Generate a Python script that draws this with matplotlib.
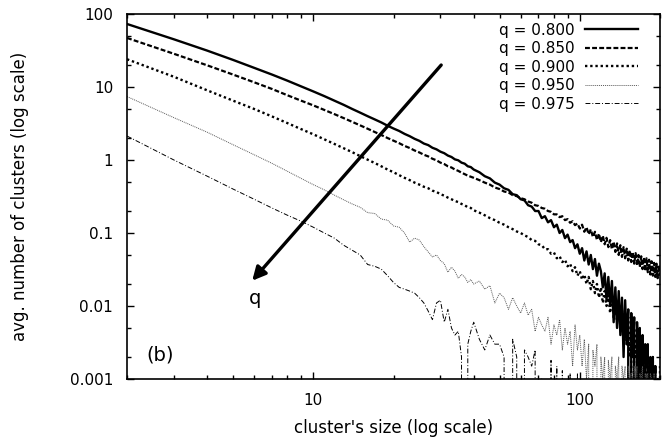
import matplotlib
matplotlib.use("Agg")
import matplotlib.pyplot as plt
from matplotlib.ticker import LogLocator, FixedLocator, FuncFormatter, NullFormatter

plt.rcParams['font.family'] = ['DejaVu Sans']

# cluster sizes (shared grid)
sizes = list(range(2, 41)) + list(range(42, 201, 2))

# q = 0.800
y800 = [73, 45, 31.5, 23.5, 18.3, 14.8, 12.2, 10.2, 8.7, 7.5, 6.5, 5.7, 5.0, 4.45, 3.98, 3.6, 3.27,
        2.95, 2.7, 2.5, 2.28, 2.12, 1.95, 1.83, 1.68, 1.6, 1.47, 1.4, 1.3, 1.24, 1.15, 1.1, 1.02,
        0.99, 0.92, 0.89, 0.82, 0.80, 0.74,
        0.68, 0.6, 0.56, 0.49, 0.46, 0.41, 0.39, 0.34, 0.33, 0.29, 0.28, 0.24, 0.23, 0.2, 0.2,
        0.16, 0.17, 0.14, 0.15, 0.12, 0.13, 0.1, 0.11, 0.085, 0.095, 0.075, 0.08, 0.062, 0.07,
        0.052, 0.062, 0.042, 0.056, 0.037, 0.05, 0.032, 0.044, 0.026, 0.038, 0.03, 0.018, 0.028,
        0.012, 0.025, 0.01, 0.022, 0.006, 0.018, 0.005, 0.016, 0.004, 0.013, 0.002, 0.012, 0.003,
        0.009, 0, 0.008, 0.002, 0.007, 0, 0.006, 0.001, 0.005, 0, 0.004, 0, 0.003, 0.0015, 0.003,
        0, 0.002, 0, 0.002, 0, 0.0015, 0, 0.001, 0, 0]

# q = 0.850
y850 = [47, 28.5, 19.8, 14.8, 11.6, 9.4, 7.7, 6.5, 5.6, 4.85, 4.25, 3.75, 3.33, 2.98, 2.68, 2.42,
        2.2, 2.0, 1.84, 1.7, 1.56, 1.46, 1.35, 1.27, 1.18, 1.12, 1.04, 0.99, 0.92, 0.88, 0.82,
        0.79, 0.74, 0.71, 0.67, 0.64, 0.61, 0.59, 0.57,
        0.53, 0.49, 0.46, 0.42, 0.40, 0.37, 0.36, 0.33, 0.32, 0.30, 0.29, 0.27, 0.26, 0.24, 0.235,
        0.22, 0.215, 0.2, 0.195, 0.18, 0.18, 0.165, 0.17, 0.15, 0.155, 0.138, 0.145, 0.128, 0.135,
        0.115, 0.13, 0.104, 0.12, 0.096, 0.112, 0.088, 0.104, 0.08, 0.098, 0.075, 0.092, 0.07,
        0.086, 0.064, 0.08, 0.06, 0.076, 0.055, 0.072, 0.05, 0.068, 0.047, 0.064, 0.045, 0.061,
        0.042, 0.058, 0.04, 0.055, 0.038, 0.053, 0.036, 0.05, 0.034, 0.048, 0.032, 0.046, 0.03,
        0.045, 0.029, 0.043, 0.027, 0.041, 0.026, 0.039, 0.025, 0.038, 0.024, 0.036, 0.026]

# q = 0.900
y900 = [24, 13.8, 9.0, 6.5, 5.0, 3.95, 3.2, 2.65, 2.25, 1.92, 1.66, 1.45, 1.28, 1.13, 1.01, 0.91,
        0.82, 0.74, 0.68, 0.62, 0.57, 0.53, 0.49, 0.46, 0.43, 0.41, 0.38, 0.365, 0.34, 0.325,
        0.305, 0.29, 0.275, 0.265, 0.25, 0.24, 0.225, 0.22, 0.205,
        0.19, 0.175, 0.16, 0.15, 0.138, 0.13, 0.12, 0.113, 0.105, 0.1, 0.093, 0.088, 0.08, 0.078,
        0.07, 0.068, 0.06, 0.06, 0.052, 0.054, 0.045, 0.048, 0.04, 0.043, 0.035, 0.038, 0.03,
        0.034, 0.026, 0.03, 0.023, 0.027, 0.02, 0.025, 0.017, 0.022, 0.015, 0.02, 0.013, 0.018,
        0.011, 0.016, 0.01, 0.014, 0.008, 0.013, 0.007, 0.011, 0.006, 0.01, 0.005, 0.009, 0.004,
        0.008, 0.003, 0.007, 0.002, 0.006, 0, 0.005, 0.002, 0.004, 0, 0.004, 0.0015, 0.003, 0,
        0.003, 0, 0.002, 0.001, 0.002, 0, 0.002, 0, 0.0015, 0, 0.001, 0, 0.0015]

# q = 0.950
y950 = [7.4, 3.8, 2.4, 1.62, 1.18, 0.9, 0.7, 0.56, 0.46, 0.39, 0.33, 0.285, 0.25, 0.225, 0.19,
        0.185, 0.155, 0.15, 0.125, 0.12, 0.1, 0.075, 0.085, 0.08, 0.065, 0.055, 0.047, 0.05,
        0.042, 0.038, 0.029, 0.034, 0.03, 0.024, 0.027, 0.025, 0.021, 0.023, 0.02,
        0.022, 0.017, 0.019, 0.011, 0.015, 0.013, 0.009, 0.013, 0.01, 0.008, 0.011, 0.0075,
        0.009, 0.0045, 0.007, 0.0055, 0.0045, 0.007, 0.003, 0.0055, 0.004, 0.0065, 0.0025,
        0.005, 0.003, 0.0045, 0.0015, 0.0055, 0.0025, 0.004, 0.0015, 0.0035, 0.001, 0.003, 0,
        0.0025, 0.0015, 0.003, 0, 0.002, 0.001, 0.002, 0, 0.0018, 0.001, 0.002, 0, 0.0015,
        0.001, 0.002, 0, 0.0015, 0.001, 0.0015, 0, 0.0015, 0.001, 0.0012, 0, 0.0015, 0.001,
        0.0015, 0, 0.0012, 0.001, 0.0015, 0, 0.0012, 0.001, 0.0012, 0, 0.0012, 0.001, 0,
        0.0012, 0, 0.0012, 0, 0.001, 0]

# q = 0.975 (nothing left above 0.001 past size ~100)
y975 = [2.13, 1.0, 0.6, 0.4, 0.29, 0.22, 0.175, 0.145, 0.12, 0.1, 0.085, 0.068, 0.058, 0.05,
        0.037, 0.035, 0.032, 0.026, 0.021, 0.018, 0.017, 0.016, 0.015, 0.013, 0.011, 0.0085,
        0.0065, 0.011, 0.012, 0.006, 0.009, 0.005, 0.004, 0.0045, 0.002, 0, 0.003, 0.0045, 0.006,
        0.0035, 0.0025, 0.004, 0.003, 0.003, 0.002, 0, 0.0035, 0.002, 0, 0.0025, 0.002, 0.0015,
        0.0025, 0, 0.001, 0, 0, 0.0018, 0, 0.0015, 0, 0.0013, 0, 0, 0.0012, 0, 0, 0.0012, 0, 0]

fig = plt.figure(figsize=(6.72, 4.40), dpi=100)
ax = fig.add_axes([127 / 672, 61 / 440, 533 / 672, 365 / 440])

ax.plot(sizes, y800, color='black', lw=1.7, ls='-', label='q = 0.800')
ax.plot(sizes, y850, color='black', lw=1.6, dashes=(2.2, 1.0), label='q = 0.850')
ax.plot(sizes, y900, color='black', lw=1.7, dashes=(1.0, 1.2), label='q = 0.900')
ax.plot(sizes, y950, color='0.35', lw=0.7, dashes=(1.0, 1.0), label='q = 0.950')
ax.plot(sizes[:len(y975)], y975, color='black', lw=0.7, dashes=(5, 2, 1, 2), label='q = 0.975')

ax.set_xscale('log')
ax.set_yscale('log')
ax.set_xlim(2, 200)
ax.set_ylim(0.001, 100)

ax.xaxis.set_major_locator(FixedLocator([10, 100]))
ax.xaxis.set_minor_locator(LogLocator(base=10, subs=range(2, 10)))
ax.xaxis.set_minor_formatter(NullFormatter())
ax.yaxis.set_major_locator(FixedLocator([0.001, 0.01, 0.1, 1, 10, 100]))
ax.yaxis.set_minor_locator(LogLocator(base=10, subs=(2, 5)))
ax.yaxis.set_minor_formatter(NullFormatter())
fmt = FuncFormatter(lambda v, p: '%g' % v)
ax.xaxis.set_major_formatter(fmt)
ax.yaxis.set_major_formatter(fmt)

ax.tick_params(which='both', direction='in', top=True, right=True, width=1, labelsize=11, pad=10)
ax.tick_params(which='major', length=5)
ax.tick_params(which='minor', length=3)
for s in ax.spines.values():
    s.set_linewidth(1.2)

ax.set_xlabel("cluster's size (log scale)", fontsize=12)
ax.set_ylabel("avg. number of clusters (log scale)", fontsize=12)
ax.xaxis.set_label_coords(0.5, -0.11)
ax.yaxis.set_label_coords(-0.184, 0.5)

ax.annotate('', xy=(5.9, 0.0222), xytext=(30.2, 20),
            arrowprops=dict(arrowstyle='-|>', lw=2.4, color='black', mutation_scale=20,
                            shrinkA=0, shrinkB=0))
ax.text(6.05, 0.0128, 'q', fontsize=14, ha='center', va='center')
ax.text(2.66, 0.0021, '(b)', fontsize=14, ha='center', va='center')

ax.legend(loc='upper right', bbox_to_anchor=(0.959, 0.976), frameon=False, markerfirst=False,
          fontsize=11, handlelength=3.5, handletextpad=0.65, labelspacing=0.23,
          borderpad=0, borderaxespad=0)

fig.savefig('out.png', dpi=100)
